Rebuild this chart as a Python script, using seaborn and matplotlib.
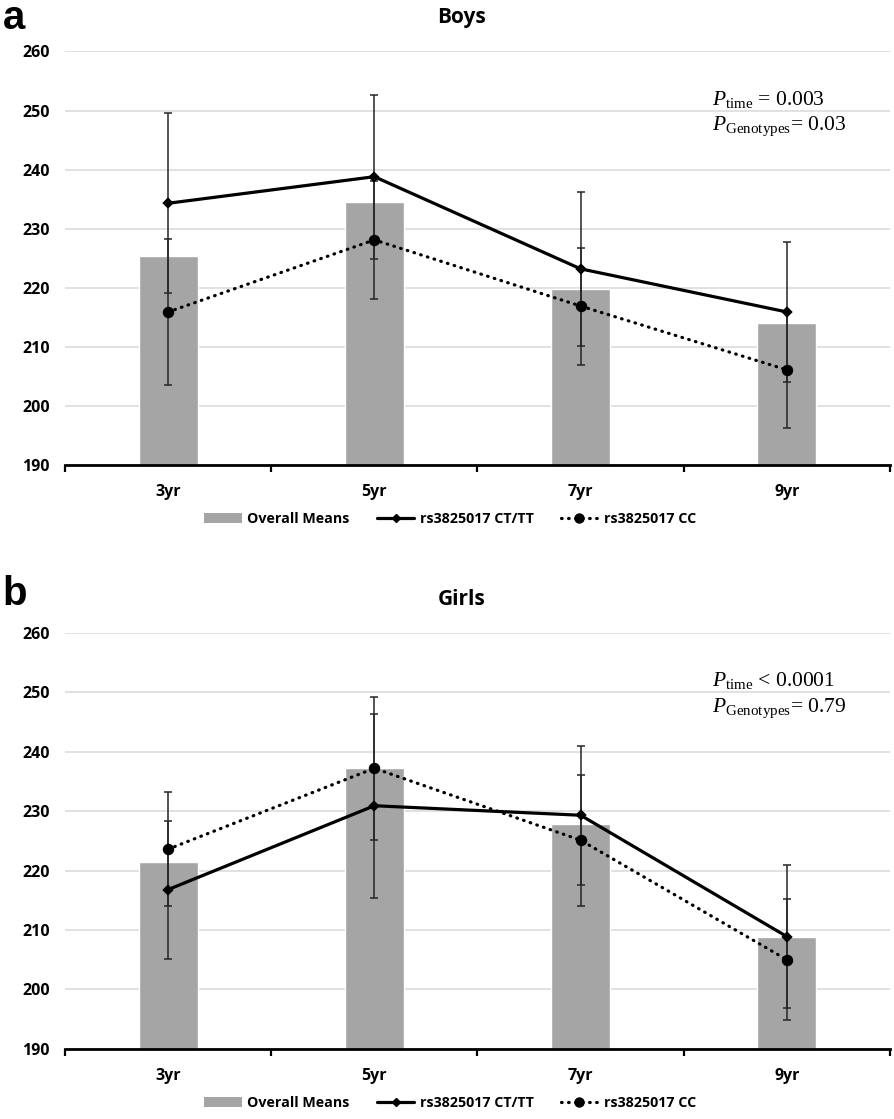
import numpy as np
import pandas as pd
import matplotlib
matplotlib.use("Agg")
import matplotlib.pyplot as plt
import seaborn as sns
from matplotlib.patches import Patch
from matplotlib.lines import Line2D

# ------------ data ------------ #
ages = ['3yr', '5yr', '7yr', '9yr']

boys_overall = [225.3, 234.5, 219.8, 214.1]
boys_ct = [234.3, 238.8, 223.2, 215.9]
boys_ct_err = [15.2, 13.9, 13.0, 11.8]
boys_cc = [215.9, 228.1, 216.9, 206.1]
boys_cc_err = [12.3, 10.0, 9.9, 9.8]

girls_overall = [221.4, 237.2, 227.9, 208.9]
girls_ct = [216.8, 230.9, 229.3, 208.9]
girls_ct_err = [11.6, 15.5, 11.7, 12.0]
girls_cc = [223.6, 237.2, 225.1, 205.0]
girls_cc_err = [9.6, 12.0, 11.0, 10.2]

y_ticks = [190, 200, 210, 220, 230, 240, 250, 260]
legend_labels = ['Overall Means', 'rs3825017 CT/TT', 'rs3825017 CC']

sns.set_style('white')
plt.rcParams['font.family'] = ['Open Sans', 'DejaVu Sans']
plt.rcParams['mathtext.fontset'] = 'custom'
plt.rcParams['mathtext.rm'] = 'Liberation Serif'
plt.rcParams['mathtext.it'] = 'Liberation Serif:italic'
plt.rcParams['text.color'] = 'black'

BAR = '#A5A5A5'
DOTS = (0, (0.2, 2.0))


def panel(ax, overall, ct, ct_err, cc, cc_err, ptext):
    df = pd.DataFrame({'age': ages, 'overall': overall, 'ct': ct, 'cc': cc})
    sns.barplot(data=df, x='age', y='overall', color=BAR, saturation=1,
                width=0.285, ax=ax, zorder=1)
    pos = np.arange(len(ages))
    ax.errorbar(pos, ct, yerr=ct_err, fmt='none', ecolor='#262626',
                elinewidth=1.1, capsize=3, capthick=1.1, zorder=3)
    ax.errorbar(pos, cc, yerr=cc_err, fmt='none', ecolor='#262626',
                elinewidth=1.1, capsize=3, capthick=1.1, zorder=3)
    sns.pointplot(data=df, x='age', y='ct', color='black', errorbar=None,
                  markers='D', linestyles='-', markersize=4.5, linewidth=2.3,
                  ax=ax, zorder=4)
    sns.pointplot(data=df, x='age', y='cc', color='black', errorbar=None,
                  markers='o', linestyles='-', markersize=6.5, linewidth=2.3,
                  ax=ax, zorder=4)
    # dotted look with round dots
    ax.lines[-1].set_linestyle(DOTS)
    ax.lines[-1].set_dash_capstyle('round')

    ax.set_xlim(-0.5, len(ages) - 0.5)
    ax.set_ylim(190, 260)
    ax.set_yticks(y_ticks)
    ax.yaxis.grid(True, color='#D9D9D9', linewidth=1.1)
    ax.set_axisbelow(True)
    ax.set_xlabel('')
    ax.set_ylabel('')
    for s in ['top', 'right', 'left']:
        ax.spines[s].set_visible(False)
    ax.spines['bottom'].set_linewidth(2)
    ax.spines['bottom'].set_color('black')
    ax.set_xticks(pos)
    ax.set_xticklabels(ages)
    ax.set_xticks(np.arange(-0.5, len(ages), 1), minor=True)
    ax.tick_params(axis='x', which='major', length=0, pad=14)
    ax.tick_params(axis='x', which='minor', length=5, width=1.6,
                   color='black', direction='out', bottom=True)
    ax.tick_params(axis='y', length=0, pad=11)
    for lab in ax.get_xticklabels() + ax.get_yticklabels():
        lab.set_fontweight('bold')
        lab.set_fontsize(11.5)
        lab.set_color('black')

    ax.text(2.637, 251.0, ptext[0], fontsize=15.5, family='Liberation Serif', color='black')
    ax.text(2.637, 246.7, ptext[1], fontsize=15.5, family='Liberation Serif', color='black')

    handles = [Patch(facecolor=BAR, edgecolor='none'),
               Line2D([], [], color='black', lw=2.3, marker='D', markersize=4.5),
               Line2D([], [], color='black', lw=2.3, ls=DOTS, marker='o',
                      markersize=6.5, dash_capstyle='round')]
    ax.legend(handles, legend_labels, loc='center', bbox_to_anchor=(0.467, -0.131),
              ncol=3, frameon=False, handlelength=2.6, handletextpad=0.4,
              columnspacing=1.9, prop={'weight': 'bold', 'size': 10.3})


fig = plt.figure(figsize=(8.94, 11.19), dpi=100)
ax1 = fig.add_axes([0.0727, 0.5845, 0.9228, 0.3695])
ax2 = fig.add_axes([0.0727, 0.0626, 0.9228, 0.3720])

panel(ax1, boys_overall, boys_ct, boys_ct_err, boys_cc, boys_cc_err,
      [r'$\mathit{P}_{\mathrm{time}}$ = 0.003',
       r'$\mathit{P}_{\mathrm{Genotypes}}$= 0.03'])
panel(ax2, girls_overall, girls_ct, girls_ct_err, girls_cc, girls_cc_err,
      [r'$\mathit{P}_{\mathrm{time}}$ < 0.0001',
       r'$\mathit{P}_{\mathrm{Genotypes}}$= 0.79'])

fig.text(0.516, 0.9794, 'Boys', ha='center', va='baseline', fontsize=15, fontweight='bold')
fig.text(0.516, 0.4593, 'Girls', ha='center', va='baseline', fontsize=15, fontweight='bold')
fig.text(0.003, 0.9745, 'a', ha='left', va='baseline', fontsize=29, fontweight='bold',
         family='Liberation Sans')
fig.text(0.003, 0.4593, 'b', ha='left', va='baseline', fontsize=29, fontweight='bold',
         family='Liberation Sans')

fig.savefig('out.png', dpi=100)
